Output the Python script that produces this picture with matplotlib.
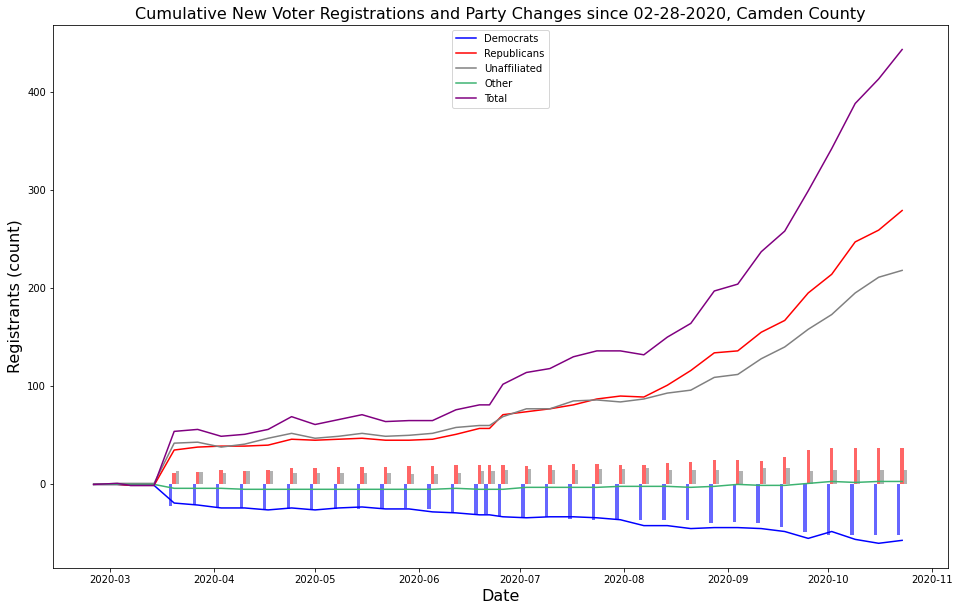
import pandas as pd
import matplotlib.pyplot as plt

# weekly snapshot dates (cumulative lines)
line_dates = ["2020-02-25", "2020-03-03", "2020-03-07", "2020-03-14",
              "2020-03-20", "2020-03-27", "2020-04-03", "2020-04-10", "2020-04-17",
              "2020-04-24", "2020-05-01", "2020-05-08", "2020-05-15", "2020-05-22",
              "2020-05-29", "2020-06-05", "2020-06-12", "2020-06-19", "2020-06-22",
              "2020-06-26", "2020-07-03", "2020-07-10", "2020-07-17", "2020-07-24",
              "2020-07-31", "2020-08-07", "2020-08-14", "2020-08-21", "2020-08-28",
              "2020-09-04", "2020-09-11", "2020-09-18", "2020-09-25", "2020-10-02",
              "2020-10-09", "2020-10-16", "2020-10-23"]

democrats = [0, 0, -1, -1, -19, -21, -24, -24, -26, -24, -26, -24, -23, -25, -25, -28,
             -29, -31, -31, -33, -34, -33, -33, -34, -36, -42, -42, -45, -44, -44, -45,
             -48, -55, -48, -56, -60, -57]
republicans = [0, 0, -1, -1, 35, 38, 39, 39, 40, 46, 45, 46, 47, 45, 45, 46, 51, 57, 57,
               71, 74, 77, 81, 87, 90, 89, 101, 116, 134, 136, 155, 167, 195, 214, 247,
               259, 279]
unaffiliated = [0, 1, 1, 1, 42, 43, 38, 41, 47, 52, 47, 49, 52, 49, 50, 52, 58, 60, 60,
                69, 77, 77, 85, 86, 84, 87, 93, 96, 109, 112, 128, 140, 158, 173, 195,
                211, 218]
other = [0, 0, 0, 0, -4, -4, -4, -5, -5, -5, -5, -5, -5, -5, -5, -5, -4, -5, -5, -5, -3,
         -3, -3, -3, -2, -2, -2, -3, -2, 0, -1, -1, 1, 3, 2, 3, 3]
total = [0, 1, -1, -1, 54, 56, 49, 51, 56, 69, 61, 66, 71, 64, 65, 65, 76, 81, 81, 102,
         114, 118, 130, 136, 136, 132, 150, 164, 197, 204, 237, 258, 299, 342, 388, 413,
         443]

# weekly party change bars
bar_dates = line_dates[4:]
dem_bars = [-22, -21, -24, -24, -26, -25, -26, -25, -25, -24, -24, -25, -29, -30.5,
            -30.5, -32.5, -33.6, -33.6, -35.6, -36.6, -35.6, -36.6, -36.6, -36.6, -39.7,
            -38.6, -39.7, -43.7, -48.8, -52, -52, -52, -52]
rep_bars = [12, 13, 15, 14, 15, 17, 17, 18, 18, 18, 19, 19, 20, 20, 20, 20, 19, 20, 21,
            21, 20, 20, 22, 23, 25, 25, 24, 28, 35, 37, 37, 37, 37]
unaff_bars = [14, 13, 12, 14, 14, 12, 12, 12, 12, 12, 11, 11, 12, 14, 14, 15, 16, 15, 15,
              16, 16, 17, 15, 15, 15, 14, 17, 17, 14, 15, 15, 15, 15]

dates = pd.to_datetime(line_dates)
bdates = pd.to_datetime(bar_dates)
one_day = pd.Timedelta(days=1)

fig = plt.figure(figsize=(953 / 72, 611 / 72), dpi=72)
ax = fig.add_axes([0.0556, 0.0704, 0.939, 0.889])

ax.bar(bdates - one_day, dem_bars, width=1, color="blue", alpha=0.6)
ax.bar(bdates, rep_bars, width=1, color="red", alpha=0.6)
ax.bar(bdates + one_day, unaff_bars, width=1, color="gray", alpha=0.6)

ax.plot(dates, democrats, color="blue", label="Democrats")
ax.plot(dates, republicans, color="red", label="Republicans")
ax.plot(dates, unaffiliated, color="gray", label="Unaffiliated")
ax.plot(dates, other, color="mediumseagreen", label="Other")
ax.plot(dates, total, color="purple", label="Total")

ax.set_title("Cumulative New Voter Registrations and Party Changes since 02-28-2020, Camden County",
             fontsize=16)
ax.set_xlabel("Date", fontsize=16)
ax.set_ylabel("Registrants (count)", fontsize=16)
ax.tick_params(labelsize=10)
ax.legend(loc="upper center", fontsize=10)

fig.savefig("out.png", dpi=72)
